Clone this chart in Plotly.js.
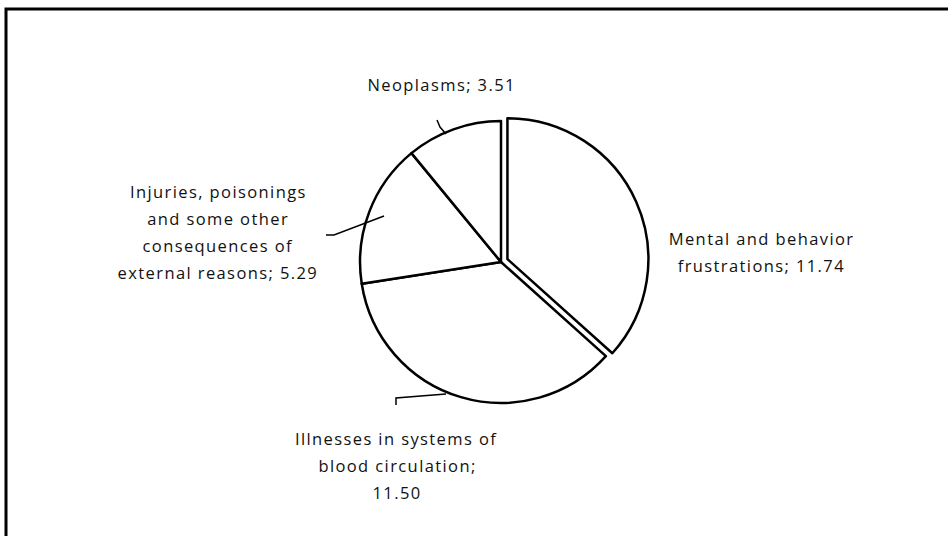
<!DOCTYPE html>
<html>
<head>
<meta charset="utf-8">
<script src="https://cdn.plot.ly/plotly-3.0.1.min.js"></script>
<style>
html,body{margin:0;padding:0;background:#fff;}
#chart{width:948px;height:536px;}
#chart .annotation-text{letter-spacing:1.4px;}
</style>
</head>
<body>
<div id="chart"></div>
<script>
const categories = [
  "Mental and behavior frustrations",
  "Illnesses in systems of blood circulation",
  "Injuries, poisonings and some other consequences of external reasons",
  "Neoplasms"
];
const values = [11.74, 11.50, 5.29, 3.51];
const labelLines = [
  ["Mental and behavior", "frustrations; 11.74"],
  ["Illnesses in systems of", "blood circulation;", "11.50"],
  ["Injuries, poisonings", "and some other", "consequences of", "external reasons; 5.29"],
  ["Neoplasms; 3.51"]
];

const W = 948, H = 536;
const px = x => x / W;
const py = y => 1 - y / H;

const FONT = {family: "'Open Sans', Lato, sans-serif", size: 16.5, color: "#111"};
const LINE_GAP = 27;

// label block centres (pixels): x centre, y of first line
const labelPos = [
  [761, 238],
  [397, 438],
  [218, 191],
  [441, 84]
];

const annotations = [];
labelLines.forEach((lines, i) => {
  lines.forEach((t, j) => {
    annotations.push({
      text: t, xref: "paper", yref: "paper",
      x: px(labelPos[i][0]), y: py(labelPos[i][1] + j * LINE_GAP),
      xanchor: "center", yanchor: "middle", showarrow: false,
      font: FONT
    });
  });
});

const leader = pts => ({
  type: "path", xref: "paper", yref: "paper",
  path: pts.map((p, i) => (i ? "L" : "M") + px(p[0]) + "," + py(p[1])).join(" "),
  line: {color: "#000", width: 1.5}
});

const shapes = [
  {type: "rect", xref: "paper", yref: "paper", x0: px(6), x1: px(W + 20), y0: py(H + 20), y1: py(9),
   line: {color: "#000", width: 3}, fillcolor: "rgba(0,0,0,0)"},
  leader([[437, 120], [440, 127], [446, 134]]),
  leader([[326, 235], [334, 235], [384, 216]]),
  leader([[396, 405], [396, 398], [446, 394]])
];

const data = [{
  type: "pie",
  labels: categories,
  values: values,
  sort: false,
  direction: "clockwise",
  rotation: 0,
  textinfo: "none",
  hoverinfo: "none",
  showlegend: false,
  pull: [0.05, 0, 0, 0],
  marker: {colors: ["#ffffff", "#ffffff", "#ffffff", "#ffffff"], line: {color: "#000", width: 2.5}},
  domain: {x: [px(501 - 148), px(501 + 148)], y: [py(262 + 148), py(262 - 148)]}
}];

const layout = {
  width: W, height: H,
  margin: {l: 0, r: 0, t: 0, b: 0},
  paper_bgcolor: "#fff",
  plot_bgcolor: "#fff",
  font: FONT,
  annotations: annotations,
  shapes: shapes
};

Plotly.newPlot("chart", data, layout, {staticPlot: true});
</script>
</body>
</html>
